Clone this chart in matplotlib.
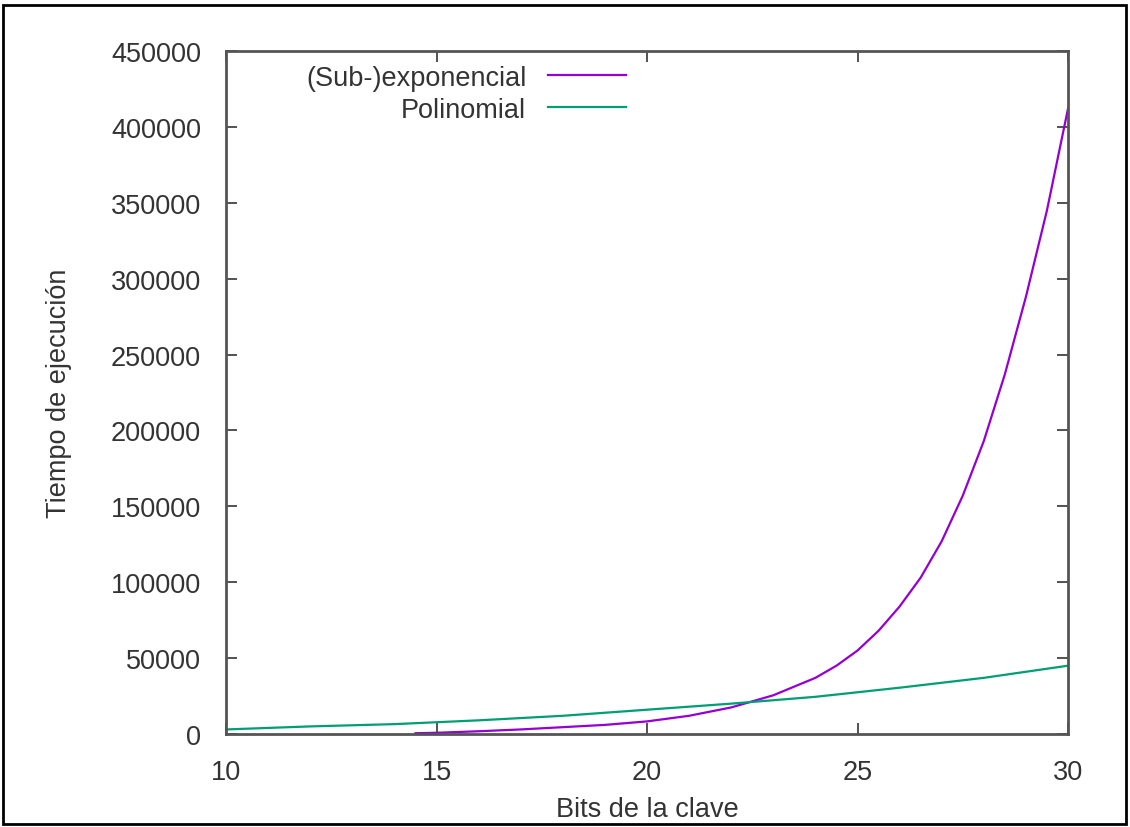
import matplotlib
matplotlib.use('Agg')
import matplotlib.pyplot as plt
from matplotlib.patches import Rectangle

# valores
bits_exp = [14.5, 15, 16, 17, 18, 19, 20, 21, 22, 23, 24, 24.5, 25, 25.5,
            26, 26.5, 27, 27.5, 28, 28.5, 29, 29.5, 30]
tiempo_exp = [500, 800, 1800, 3000, 4500, 6000, 8300, 12000, 17500, 25500,
              37000, 45000, 55000, 68000, 84000, 103000, 127000, 157000,
              193000, 237000, 288000, 345000, 412000]

bits_pol = [10, 12, 14, 16, 18, 20, 22, 24, 26, 28, 30]
tiempo_pol = [3000, 5000, 6500, 9000, 12000, 16000, 20000, 24500, 30500,
              37000, 45000]

x_ticks = [10, 15, 20, 25, 30]
y_ticks = [0, 50000, 100000, 150000, 200000, 250000, 300000, 350000, 400000, 450000]

plt.rcParams['font.family'] = ['Liberation Sans', 'DejaVu Sans']

fig = plt.figure(figsize=(11.3, 8.28), dpi=100)
ax = fig.add_axes([226/1130, 1-735/828, (1068-226)/1130, (735-52)/828])

ax.plot(bits_exp, tiempo_exp, color='#9400D3', lw=1.6, label='(Sub-)exponencial')
ax.plot(bits_pol, tiempo_pol, color='#009E73', lw=1.6, label='Polinomial')

ax.set_xlim(10, 30)
ax.set_ylim(0, 450000)
ax.set_xticks(x_ticks)
ax.set_yticks(y_ticks)
ax.tick_params(direction='in', length=8, width=1.3, top=True, right=True,
               labelsize=19.5, colors='#444444', labelcolor='#333333', pad=18)
for s in ax.spines.values():
    s.set_color('#555555')
    s.set_linewidth(2)

ax.set_xlabel('Bits de la clave', fontsize=19.5, color='#333333', labelpad=8)
ax.set_ylabel('Tiempo de ejecución', fontsize=19.5, color='#333333', labelpad=28)

ax.legend(loc='upper right', bbox_to_anchor=(640/1130, 1-52/828),
          bbox_transform=fig.transFigure, frameon=False, markerfirst=False,
          fontsize=19.5, handlelength=2.9, handletextpad=0.8,
          labelspacing=0.22, borderpad=0, labelcolor='#333333')

# marco exterior
fig.patches.append(Rectangle((3/1130, 3/828), 1123/1130, 819/828,
                             transform=fig.transFigure, fill=False,
                             edgecolor='black', lw=2))

fig.savefig('out.png', dpi=100)
